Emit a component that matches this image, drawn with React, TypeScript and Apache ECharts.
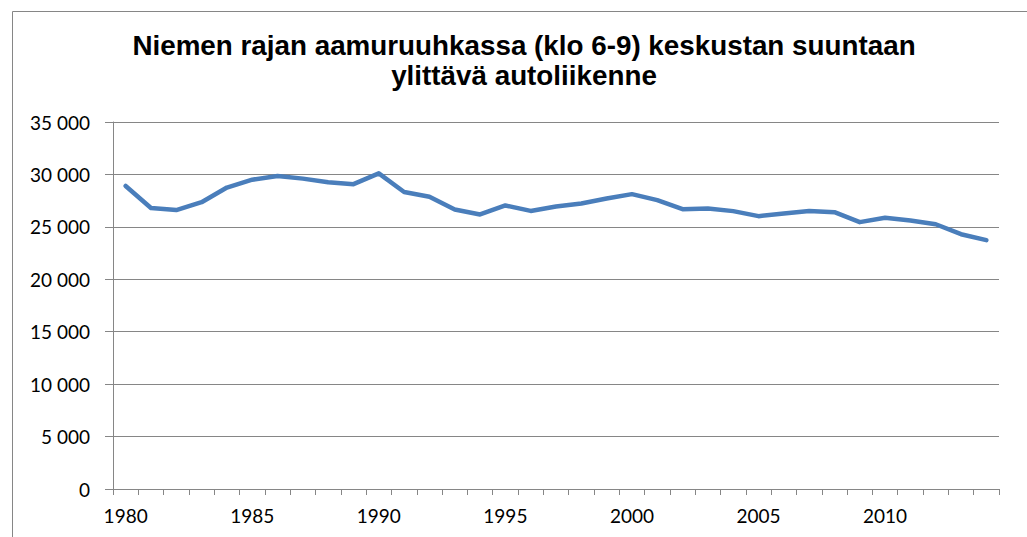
import React, { useEffect, useRef } from "react";
import * as echarts from "echarts";

const years: string[] = [
  "1980", "1981", "1982", "1983", "1984", "1985", "1986", "1987", "1988", "1989",
  "1990", "1991", "1992", "1993", "1994", "1995", "1996", "1997", "1998", "1999",
  "2000", "2001", "2002", "2003", "2004", "2005", "2006", "2007", "2008", "2009",
  "2010", "2011", "2012", "2013", "2014",
];

const traffic: number[] = [
  28900, 26800, 26600, 27350, 28750, 29500, 29850, 29600, 29250, 29070,
  30100, 28320, 27870, 26650, 26180, 27040, 26520, 26950, 27230, 27700,
  28120, 27550, 26690, 26760, 26500, 26020, 26280, 26520, 26400, 25450,
  25860, 25600, 25250, 24300, 23730,
];

const titleText = "Niemen rajan aamuruuhkassa (klo 6-9) keskustan suuntaan\nylittävä autoliikenne";

const fmt = (v: number) => {
  const s = String(Math.round(v));
  return s.replace(/\B(?=(\d{3})+(?!\d))/g, " ");
};

export default function App() {
  const ref = useRef<HTMLDivElement>(null);
  useEffect(() => {
    if (!ref.current) return;
    const chart = echarts.init(ref.current, undefined, { renderer: "svg" });
    const gray = "#868686";
    chart.setOption({
      animation: false,
      backgroundColor: "#ffffff",
      title: {
        text: titleText,
        left: 524,
        top: 30,
        padding: 0,
        textAlign: "center",
        textStyle: {
          fontFamily: "Liberation Sans, Arial, sans-serif",
          fontWeight: "bold",
          fontSize: 27.8,
          lineHeight: 30,
          color: "#000000",
        },
      },
      graphic: [
        {
          type: "rect",
          shape: { x: 12.5, y: 11.5, width: 1100, height: 600 },
          style: { fill: "none", stroke: gray, lineWidth: 1 },
          silent: true,
          z: -1,
        },
      ],
      grid: { left: 113, right: 28, top: 122, bottom: 48, containLabel: false },
      xAxis: {
        type: "category",
        data: years,
        boundaryGap: true,
        axisLine: { show: true, lineStyle: { color: gray, width: 1 } },
        axisTick: { show: true, interval: 0, length: 6, lineStyle: { color: gray } },
        axisLabel: {
          interval: 4,
          margin: 17,
          fontFamily: "Lato, sans-serif",
          fontSize: 19,
          color: "#000000",
        },
        splitLine: { show: false },
      },
      yAxis: {
        type: "value",
        min: 0,
        max: 35000,
        interval: 5000,
        axisLine: { show: true, lineStyle: { color: gray, width: 1 } },
        axisTick: { show: true, length: 8, lineStyle: { color: gray } },
        axisLabel: {
          margin: 23,
          formatter: (v: number) => fmt(v),
          fontFamily: "Lato, sans-serif",
          fontSize: 19,
          color: "#000000",
        },
        splitLine: { show: true, lineStyle: { color: gray, width: 1 } },
      },
      series: [
        {
          type: "line",
          data: traffic,
          symbol: "none",
          lineStyle: { color: "#4A7EBB", width: 4.5, cap: "round", join: "round" },
          itemStyle: { color: "#4A7EBB" },
        },
      ],
    });
    return () => chart.dispose();
  }, []);
  return (
    <div
      ref={ref}
      style={{ position: "fixed", left: 0, top: 0, width: 1027, height: 537, background: "#fff" }}
    />
  );
}
